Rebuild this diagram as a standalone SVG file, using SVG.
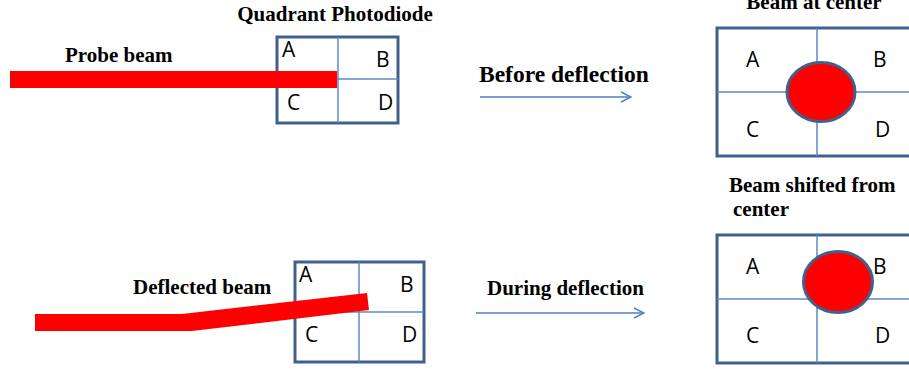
<svg xmlns="http://www.w3.org/2000/svg" width="909" height="371" viewBox="0 0 909 371">
<defs>
<style>
.box{fill:none;stroke:#41608c;stroke-width:3}
.div{fill:none;stroke:#5b8ac6;stroke-width:1.5}
.beam{fill:#ff0000;stroke:none}
.spot{fill:#ff0000;stroke:#41608c;stroke-width:3}
.lbl{font-family:"Liberation Serif","Times New Roman",serif;font-weight:bold;font-size:21px;fill:#000}
.q{font-family:"Open Sans","Liberation Sans",Arial,sans-serif;font-size:21px;fill:#000}
.arr{fill:none;stroke:#4f81bd;stroke-width:1.5}
</style>
<marker id="open" viewBox="0 0 12 12" refX="11" refY="6" markerWidth="12" markerHeight="12" markerUnits="userSpaceOnUse" orient="auto">
<path d="M1,1 L11,6 L1,11" fill="none" stroke="#4f81bd" stroke-width="1.5"/>
</marker>
</defs>
<rect width="909" height="371" fill="#fff"/>

<g id="detector-top-left">
<rect class="box" x="277" y="37" width="121" height="86"/>
<line class="div" x1="338" y1="37" x2="338" y2="123"/>
<line class="div" x1="277" y1="79" x2="398" y2="79"/>
<text class="q" x="282" y="57">A</text>
<text class="q" x="376" y="67">B</text>
<text class="q" x="287" y="110">C</text>
<text class="q" x="378" y="110">D</text>
<text class="lbl" x="335" y="21" text-anchor="middle">Quadrant Photodiode</text>
</g>

<g id="probe-beam">
<rect class="beam" x="10" y="71" width="327" height="17"/>
<text class="lbl" x="65" y="62">Probe beam</text>
</g>

<g id="detector-top-right">
<rect class="box" x="717" y="28" width="200" height="128"/>
<line class="div" x1="817" y1="28" x2="817" y2="156"/>
<line class="div" x1="717" y1="92" x2="917" y2="92"/>
<text class="q" x="746" y="67">A</text>
<text class="q" x="873" y="67">B</text>
<text class="q" x="746" y="137">C</text>
<text class="q" x="875" y="137">D</text>
<ellipse class="spot" cx="821" cy="92" rx="34" ry="29.5"/>
<text class="lbl" x="814" y="9" text-anchor="middle">Beam at center</text>
</g>

<g id="detector-bottom-left">
<rect class="box" x="295" y="262" width="129" height="100"/>
<line class="div" x1="359" y1="262" x2="359" y2="362"/>
<line class="div" x1="295" y1="312" x2="424" y2="312"/>
<text class="q" x="299" y="282">A</text>
<text class="q" x="400" y="292">B</text>
<text class="q" x="305" y="342">C</text>
<text class="q" x="402" y="342">D</text>
</g>

<g id="deflected-beam">
<rect class="beam" x="35" y="314" width="157" height="17"/>
<polygon class="beam" points="182,314 367,293 369,310 192,331"/>
<text class="lbl" x="133" y="294">Deflected beam</text>
</g>

<g id="detector-bottom-right">
<rect class="box" x="717" y="235" width="200" height="128"/>
<line class="div" x1="817" y1="235" x2="817" y2="363"/>
<line class="div" x1="717" y1="299" x2="917" y2="299"/>
<text class="q" x="746" y="274">A</text>
<text class="q" x="873" y="274">B</text>
<text class="q" x="746" y="343">C</text>
<text class="q" x="875" y="343">D</text>
<ellipse class="spot" cx="838" cy="282" rx="34.5" ry="30.5"/>
<text class="lbl" x="729" y="192">Beam shifted from</text>
<text class="lbl" x="733" y="216">center</text>
</g>

<g id="connectors">
<line class="arr" x1="480" y1="97" x2="631" y2="97" marker-end="url(#open)"/>
<line class="arr" x1="476" y1="313" x2="644" y2="313" marker-end="url(#open)"/>
</g>
<g id="labels">
<text class="lbl" x="479" y="82" style="font-size:23.5px">Before deflection</text>
<text class="lbl" x="487" y="295">During deflection</text>
</g>
</svg>
